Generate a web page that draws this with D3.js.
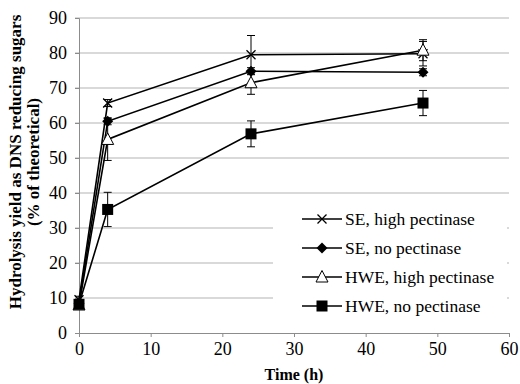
<!DOCTYPE html>
<html>
<head>
<meta charset="utf-8">
<script src="https://cdn.jsdelivr.net/npm/d3@7"></script>
<style>
  body { margin: 0; background: #fff; }
  svg { display: block; font-family: "Liberation Serif", "Times New Roman", serif; }
</style>
</head>
<body>
<svg id="chart" width="520" height="384"></svg>
<script>
// Hydrolysis yield over time
const timeHours = [0, 4, 24, 48];

const seHigh = [9.5, 65.7, 79.5, 79.8];
const seHighErr = [1, 1, 5.5, 3.5];
const seNo = [8.5, 60.5, 74.8, 74.5];
const seNoErr = [0.5, 1, 1, 1];
const hweHigh = [8, 55.3, 71.5, 80.8];
const hweHighErr = [0.5, 6, 3.3, 3];
const hweNo = [8.2, 35.3, 56.9, 65.7];
const hweNoErr = [1, 4.9, 3.7, 3.6];

const seriesNames = ["SE, high pectinase", "SE, no pectinase", "HWE, high pectinase", "HWE, no pectinase"];
const seriesMarkers = ["cross", "diamond", "triangle", "square"];
const xTicks = [0, 10, 20, 30, 40, 50, 60];
const yTicks = [0, 10, 20, 30, 40, 50, 60, 70, 80, 90];

const series = [
    { name: seriesNames[0], marker: seriesMarkers[0], values: seHigh, errs: seHighErr },
    { name: seriesNames[1], marker: seriesMarkers[1], values: seNo, errs: seNoErr },
    { name: seriesNames[2], marker: seriesMarkers[2], values: hweHigh, errs: hweHighErr },
    { name: seriesNames[3], marker: seriesMarkers[3], values: hweNo, errs: hweNoErr }
];

const margin = { top: 18, right: 11, bottom: 51, left: 79 };
const width = 520, height = 384;

const svg = d3.select("#chart");

const x = d3.scaleLinear().domain([0, 60]).range([margin.left, width - margin.right]);
const y = d3.scaleLinear().domain([0, 90]).range([height - margin.bottom, margin.top]);

/* gridlines */
svg.append("g")
    .selectAll("line")
    .data(yTicks.filter(d => d > 0))
    .enter()
    .append("line")
    .attr("x1", margin.left - 4)
    .attr("x2", width - margin.right)
    .attr("y1", d => y(d))
    .attr("y2", d => y(d))
    .attr("stroke", "#b3b3b3")
    .attr("stroke-width", 1);

/* axes */
const xAxis = svg.append("g")
    .attr("transform", `translate(0,${y(0)})`)
    .call(d3.axisBottom(x).tickValues(xTicks).tickSize(4).tickPadding(5));
const yAxis = svg.append("g")
    .attr("transform", `translate(${x(0)},0)`)
    .call(d3.axisLeft(y).tickValues(yTicks).tickSize(4).tickPadding(8));

[xAxis, yAxis].forEach(a => {
    a.select(".domain").attr("stroke", "#8c8c8c");
    a.selectAll(".tick line").attr("stroke", "#8c8c8c");
    a.selectAll(".tick text")
        .attr("fill", "#000")
        .style("font-size", "18px")
        .style("font-family", "Liberation Serif, serif");
});

/* axis titles */
svg.append("text")
    .attr("x", 294)
    .attr("y", 380)
    .attr("text-anchor", "middle")
    .style("font-size", "16px")
    .style("font-weight", "bold")
    .text("Time (h)");

const yTitle = svg.append("text")
    .attr("transform", `translate(21,162) rotate(-90)`)
    .attr("text-anchor", "middle")
    .style("font-size", "17px")
    .style("font-weight", "bold");
yTitle.append("tspan").attr("x", 0).attr("dy", 0).text("Hydrolysis yield as DNS reducing sugars");
yTitle.append("tspan").attr("x", 0).attr("dy", 18).text("(% of theoretical)");

/* markers */
function drawMarker(g, type) {
    if (type === "cross") {
        g.append("path").attr("d", "M-4.5,-4.5L4.5,4.5M-4.5,4.5L4.5,-4.5")
            .attr("stroke", "#000").attr("stroke-width", 1.3).attr("fill", "none");
    } else if (type === "diamond") {
        g.append("path").attr("d", "M0,-5.5L5.5,0L0,5.5L-5.5,0Z").attr("fill", "#000");
    } else if (type === "triangle") {
        g.append("path").attr("d", "M0,-6.5L6,5L-6,5Z")
            .attr("fill", "#fff").attr("stroke", "#000").attr("stroke-width", 1);
    } else {
        g.append("rect").attr("x", -5.5).attr("y", -5.5).attr("width", 11).attr("height", 11).attr("fill", "#000");
    }
}

const line = d3.line().x(d => x(d.t)).y(d => y(d.v));

series.forEach(s => {
    const pts = timeHours.map((t, i) => ({ t: t, v: s.values[i], e: s.errs[i] }));
    const g = svg.append("g");

    // error bars
    const eb = g.selectAll(".err").data(pts).enter().append("g");
    eb.append("line")
        .attr("x1", d => x(d.t)).attr("x2", d => x(d.t))
        .attr("y1", d => y(d.v - d.e)).attr("y2", d => y(d.v + d.e))
        .attr("stroke", "#000").attr("stroke-width", 1);
    [-1, 1].forEach(sign => {
        eb.append("line")
            .attr("x1", d => x(d.t) - 4).attr("x2", d => x(d.t) + 4)
            .attr("y1", d => y(d.v + sign * d.e)).attr("y2", d => y(d.v + sign * d.e))
            .attr("stroke", "#000").attr("stroke-width", 1);
    });

    g.append("path")
        .datum(pts)
        .attr("d", line)
        .attr("fill", "none")
        .attr("stroke", "#000")
        .attr("stroke-width", 1.6);

    pts.forEach(p => {
        const m = g.append("g").attr("transform", `translate(${x(p.t)},${y(p.v)})`);
        drawMarker(m, s.marker);
    });
});

/* legend */
const legend = svg.append("g");
legend.append("rect")
    .attr("x", 273).attr("y", 202)
    .attr("width", 234).attr("height", 116)
    .attr("fill", "#fff");

series.forEach((s, i) => {
    const ly = 219 + i * 29;
    const row = legend.append("g");
    row.append("line")
        .attr("x1", 302).attr("x2", 342)
        .attr("y1", ly).attr("y2", ly)
        .attr("stroke", "#000").attr("stroke-width", 1.6);
    const m = row.append("g").attr("transform", `translate(322,${ly})`);
    drawMarker(m, s.marker);
    row.append("text")
        .attr("x", 345).attr("y", ly + 6)
        .style("font-size", "17.5px")
        .text(s.name);
});
</script>
</body>
</html>
